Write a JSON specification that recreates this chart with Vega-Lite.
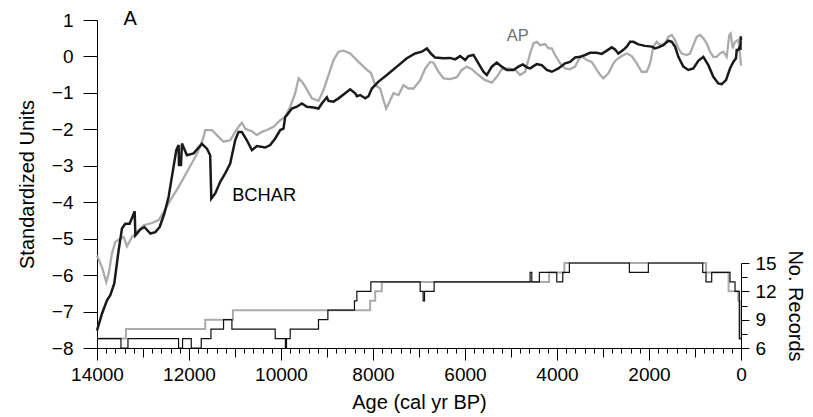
{
  "$schema": "https://vega.github.io/schema/vega-lite/v6.json",
  "autosize": {"type": "none"},
  "padding": {"left": 97, "top": 20, "right": 72, "bottom": 69},
  "width": 644,
  "height": 328,
  "config": {
    "font": "Liberation Sans",
    "view": {"stroke": null},
    "axis": {"grid": false, "domainColor": "#000", "tickColor": "#000", "labelColor": "#000", "titleColor": "#000", "labelFont": "Liberation Sans", "titleFont": "Liberation Sans", "labelFontSize": 19, "titleFontSize": 20, "titleFontWeight": "normal", "domainWidth": 1, "tickWidth": 1, "labelOverlap": false, "labelFlush": false, "labelBound": false, "tickCount": 500}
  },
  "datasets": {
    "bchar": [
      {"age": 14000, "v": -7.52}, {"age": 13892, "v": -7.06}, {"age": 13783, "v": -6.69}, {"age": 13711, "v": -6.55}, {"age": 13624, "v": -6.23},
      {"age": 13530, "v": -5.32}, {"age": 13457, "v": -4.72}, {"age": 13385, "v": -4.59}, {"age": 13290, "v": -4.59}, {"age": 13181, "v": -4.25},
      {"age": 13166, "v": -4.91}, {"age": 13058, "v": -4.75}, {"age": 12971, "v": -4.68}, {"age": 12840, "v": -4.86}, {"age": 12732, "v": -4.82},
      {"age": 12638, "v": -4.68}, {"age": 12536, "v": -4.31}, {"age": 12443, "v": -3.85}, {"age": 12348, "v": -3.12}, {"age": 12276, "v": -2.57},
      {"age": 12226, "v": -2.43}, {"age": 12218, "v": -2.98}, {"age": 12175, "v": -2.98}, {"age": 12153, "v": -2.39}, {"age": 12045, "v": -2.71},
      {"age": 11901, "v": -2.66}, {"age": 11720, "v": -2.40}, {"age": 11610, "v": -2.53}, {"age": 11540, "v": -2.71}, {"age": 11515, "v": -3.90},
      {"age": 11430, "v": -3.76}, {"age": 11321, "v": -3.44}, {"age": 11213, "v": -3.21}, {"age": 11104, "v": -2.94}, {"age": 10996, "v": -2.30},
      {"age": 10923, "v": -2.07}, {"age": 10851, "v": -2.07}, {"age": 10742, "v": -2.30}, {"age": 10633, "v": -2.57}, {"age": 10524, "v": -2.46},
      {"age": 10343, "v": -2.50}, {"age": 10235, "v": -2.43}, {"age": 10126, "v": -2.25}, {"age": 10017, "v": -2.02}, {"age": 9946, "v": -1.98},
      {"age": 9909, "v": -1.66}, {"age": 9873, "v": -1.61}, {"age": 9764, "v": -1.43}, {"age": 9655, "v": -1.38}, {"age": 9546, "v": -1.29},
      {"age": 9437, "v": -1.38}, {"age": 9293, "v": -1.40}, {"age": 9185, "v": -1.43}, {"age": 9112, "v": -1.29}, {"age": 9003, "v": -1.12},
      {"age": 8967, "v": -1.22}, {"age": 8858, "v": -1.24}, {"age": 8750, "v": -1.15}, {"age": 8605, "v": -1.01}, {"age": 8496, "v": -0.90},
      {"age": 8387, "v": -1.01}, {"age": 8351, "v": -1.09}, {"age": 8279, "v": -1.06}, {"age": 8170, "v": -1.15}, {"age": 8098, "v": -1.09},
      {"age": 8025, "v": -0.88}, {"age": 7881, "v": -0.69}, {"age": 7699, "v": -0.51}, {"age": 7481, "v": -0.28}, {"age": 7264, "v": -0.05},
      {"age": 7084, "v": 0.08}, {"age": 6938, "v": 0.13}, {"age": 6829, "v": 0.22}, {"age": 6742, "v": 0.08}, {"age": 6649, "v": -0.03},
      {"age": 6468, "v": -0.05}, {"age": 6323, "v": -0.04}, {"age": 6215, "v": -0.08}, {"age": 6106, "v": 0.01}, {"age": 5997, "v": -0.10},
      {"age": 5925, "v": 0.01}, {"age": 5816, "v": 0.04}, {"age": 5708, "v": -0.19}, {"age": 5599, "v": -0.42}, {"age": 5526, "v": -0.51},
      {"age": 5418, "v": -0.28}, {"age": 5309, "v": -0.17}, {"age": 5200, "v": -0.28}, {"age": 5091, "v": -0.37}, {"age": 4946, "v": -0.37},
      {"age": 4838, "v": -0.28}, {"age": 4743, "v": -0.22}, {"age": 4656, "v": -0.30}, {"age": 4585, "v": -0.33}, {"age": 4527, "v": -0.28},
      {"age": 4440, "v": -0.21}, {"age": 4331, "v": -0.24}, {"age": 4222, "v": -0.37}, {"age": 4113, "v": -0.42}, {"age": 3969, "v": -0.33},
      {"age": 3824, "v": -0.19}, {"age": 3716, "v": -0.15}, {"age": 3607, "v": -0.03}, {"age": 3498, "v": -0.01}, {"age": 3390, "v": 0.04},
      {"age": 3281, "v": 0.10}, {"age": 3136, "v": 0.10}, {"age": 3027, "v": 0.07}, {"age": 2918, "v": 0.16}, {"age": 2810, "v": 0.25},
      {"age": 2738, "v": 0.19}, {"age": 2666, "v": 0.08}, {"age": 2557, "v": 0.18}, {"age": 2484, "v": 0.27}, {"age": 2412, "v": 0.40},
      {"age": 2340, "v": 0.40}, {"age": 2231, "v": 0.33}, {"age": 2086, "v": 0.29}, {"age": 1941, "v": 0.27}, {"age": 1869, "v": 0.22},
      {"age": 1797, "v": 0.25}, {"age": 1688, "v": 0.31}, {"age": 1579, "v": 0.43}, {"age": 1506, "v": 0.40}, {"age": 1434, "v": 0.27},
      {"age": 1362, "v": -0.01}, {"age": 1254, "v": -0.28}, {"age": 1145, "v": -0.37}, {"age": 1036, "v": -0.33}, {"age": 928, "v": -0.12},
      {"age": 819, "v": -0.01}, {"age": 710, "v": -0.24}, {"age": 602, "v": -0.56}, {"age": 493, "v": -0.74}, {"age": 420, "v": -0.76},
      {"age": 326, "v": -0.65}, {"age": 239, "v": -0.33}, {"age": 167, "v": -0.15}, {"age": 109, "v": -0.05}, {"age": 93, "v": 0.18},
      {"age": 59, "v": 0.18}, {"age": 22, "v": 0.27}, {"age": 12, "v": 0.18}, {"age": 6, "v": 0.55}, {"age": 0, "v": 0.45}
    ],
    "ap": [
      {"age": 14000, "v": -5.46}, {"age": 13892, "v": -5.78}, {"age": 13798, "v": -6.19}, {"age": 13747, "v": -5.96}, {"age": 13675, "v": -5.41},
      {"age": 13603, "v": -5.09}, {"age": 13494, "v": -5.00}, {"age": 13421, "v": -4.95}, {"age": 13349, "v": -5.21}, {"age": 13240, "v": -4.95},
      {"age": 13131, "v": -4.82}, {"age": 12986, "v": -4.63}, {"age": 12805, "v": -4.57}, {"age": 12660, "v": -4.49}, {"age": 12551, "v": -4.27},
      {"age": 12406, "v": -3.95}, {"age": 12225, "v": -3.58}, {"age": 12045, "v": -3.17}, {"age": 11864, "v": -2.76}, {"age": 11757, "v": -2.48},
      {"age": 11683, "v": -2.21}, {"age": 11648, "v": -2.02}, {"age": 11502, "v": -2.02}, {"age": 11393, "v": -2.16}, {"age": 11249, "v": -2.34},
      {"age": 11104, "v": -2.30}, {"age": 10996, "v": -2.07}, {"age": 10923, "v": -1.93}, {"age": 10851, "v": -1.82}, {"age": 10779, "v": -1.98},
      {"age": 10706, "v": -2.02}, {"age": 10633, "v": -2.05}, {"age": 10524, "v": -2.16}, {"age": 10416, "v": -2.07}, {"age": 10307, "v": -2.02},
      {"age": 10162, "v": -1.93}, {"age": 10017, "v": -1.75}, {"age": 9909, "v": -1.66}, {"age": 9800, "v": -1.38}, {"age": 9691, "v": -1.01},
      {"age": 9618, "v": -0.60}, {"age": 9546, "v": -0.69}, {"age": 9474, "v": -0.83}, {"age": 9329, "v": -1.15}, {"age": 9185, "v": -1.22},
      {"age": 9076, "v": -0.92}, {"age": 8967, "v": -0.51}, {"age": 8858, "v": -0.10}, {"age": 8750, "v": 0.13}, {"age": 8641, "v": 0.16},
      {"age": 8496, "v": 0.08}, {"age": 8315, "v": -0.15}, {"age": 8134, "v": -0.37}, {"age": 8047, "v": -0.45}, {"age": 8003, "v": -0.60},
      {"age": 7953, "v": -0.79}, {"age": 7844, "v": -0.88}, {"age": 7772, "v": -1.20}, {"age": 7714, "v": -1.43}, {"age": 7641, "v": -1.24},
      {"age": 7554, "v": -1.01}, {"age": 7446, "v": -1.06}, {"age": 7337, "v": -0.79}, {"age": 7228, "v": -0.88}, {"age": 7119, "v": -0.88},
      {"age": 6975, "v": -0.65}, {"age": 6866, "v": -0.33}, {"age": 6758, "v": -0.15}, {"age": 6685, "v": -0.17}, {"age": 6576, "v": -0.42},
      {"age": 6468, "v": -0.60}, {"age": 6323, "v": -0.62}, {"age": 6178, "v": -0.57}, {"age": 6070, "v": -0.37}, {"age": 5961, "v": -0.28},
      {"age": 5852, "v": -0.35}, {"age": 5708, "v": -0.51}, {"age": 5563, "v": -0.65}, {"age": 5418, "v": -0.72}, {"age": 5309, "v": -0.56},
      {"age": 5200, "v": -0.35}, {"age": 5056, "v": -0.33}, {"age": 4910, "v": -0.37}, {"age": 4802, "v": -0.51}, {"age": 4693, "v": -0.42},
      {"age": 4585, "v": 0.08}, {"age": 4512, "v": 0.36}, {"age": 4440, "v": 0.40}, {"age": 4367, "v": 0.31}, {"age": 4258, "v": 0.34},
      {"age": 4186, "v": 0.22}, {"age": 4113, "v": 0.22}, {"age": 4041, "v": 0.04}, {"age": 3932, "v": -0.19}, {"age": 3824, "v": -0.33},
      {"age": 3716, "v": -0.35}, {"age": 3607, "v": -0.28}, {"age": 3535, "v": -0.10}, {"age": 3462, "v": 0.01}, {"age": 3353, "v": -0.10},
      {"age": 3244, "v": -0.15}, {"age": 3136, "v": -0.37}, {"age": 3063, "v": -0.50}, {"age": 2991, "v": -0.60}, {"age": 2883, "v": -0.46},
      {"age": 2774, "v": -0.19}, {"age": 2701, "v": -0.08}, {"age": 2593, "v": 0.01}, {"age": 2484, "v": 0.08}, {"age": 2375, "v": 0.01},
      {"age": 2267, "v": -0.19}, {"age": 2158, "v": -0.42}, {"age": 2049, "v": -0.42}, {"age": 1977, "v": -0.19}, {"age": 1905, "v": 0.27},
      {"age": 1832, "v": 0.40}, {"age": 1760, "v": 0.31}, {"age": 1651, "v": 0.36}, {"age": 1579, "v": 0.54}, {"age": 1506, "v": 0.59},
      {"age": 1434, "v": 0.45}, {"age": 1362, "v": 0.22}, {"age": 1289, "v": 0.08}, {"age": 1180, "v": 0.04}, {"age": 1108, "v": 0.08},
      {"age": 1036, "v": 0.31}, {"age": 963, "v": 0.54}, {"age": 891, "v": 0.59}, {"age": 819, "v": 0.50}, {"age": 746, "v": 0.36},
      {"age": 674, "v": 0.13}, {"age": 602, "v": -0.01}, {"age": 529, "v": -0.01}, {"age": 457, "v": 0.08}, {"age": 384, "v": 0.13},
      {"age": 311, "v": -0.01}, {"age": 254, "v": 0.59}, {"age": 224, "v": 0.63}, {"age": 180, "v": 0.22}, {"age": 130, "v": 0.40},
      {"age": 59, "v": 0.45}, {"age": 22, "v": 0.08}, {"age": 0, "v": -0.25}
    ],
    "recBlack": [
      {"age": 0, "n": 7}, {"age": 37, "n": 12}, {"age": 130, "n": 13}, {"age": 239, "n": 14}, {"age": 637, "n": 13},
      {"age": 761, "n": 14}, {"age": 832, "n": 15}, {"age": 2014, "n": 14}, {"age": 2427, "n": 15}, {"age": 3731, "n": 14},
      {"age": 3875, "n": 13}, {"age": 4005, "n": 14}, {"age": 4383, "n": 13}, {"age": 4548, "n": 14}, {"age": 4585, "n": 13},
      {"age": 6671, "n": 12}, {"age": 6880, "n": 11}, {"age": 6910, "n": 12}, {"age": 6975, "n": 13}, {"age": 8047, "n": 12},
      {"age": 8351, "n": 11}, {"age": 8403, "n": 10}, {"age": 8981, "n": 9}, {"age": 9185, "n": 8}, {"age": 9800, "n": 7},
      {"age": 9880, "n": 6}, {"age": 9905, "n": 7}, {"age": 10126, "n": 8}, {"age": 11067, "n": 9}, {"age": 11249, "n": 8},
      {"age": 11523, "n": 7}, {"age": 11734, "n": 6}, {"age": 11951, "n": 7}, {"age": 12140, "n": 6}, {"age": 12227, "n": 7},
      {"age": 13327, "n": 6}, {"age": 13479, "n": 7}, {"age": 14000, "n": 7}
    ],
    "recGray": [
      {"age": 0, "n": 7}, {"age": 25, "n": 11}, {"age": 60, "n": 12}, {"age": 270, "n": 14}, {"age": 761, "n": 15},
      {"age": 3840, "n": 14}, {"age": 4172, "n": 13}, {"age": 7808, "n": 12}, {"age": 7953, "n": 11}, {"age": 8062, "n": 10},
      {"age": 11045, "n": 9}, {"age": 11647, "n": 8}, {"age": 13371, "n": 7}, {"age": 14000, "n": 7}
    ],
    "labels": [
      {"age": 13423, "v": 1.03, "txt": "A", "kind": "panel"},
      {"age": 11061, "v": -3.84, "txt": "BCHAR", "kind": "bchar"},
      {"age": 5091, "v": 0.56, "txt": "AP", "kind": "ap"}
    ]
  },
  "layer": [
    {
      "layer": [
        {
          "data": {"name": "ap"},
          "mark": {"type": "line", "color": "#ababab", "strokeWidth": 2.3},
          "encoding": {
            "x": {"field": "age", "type": "quantitative", "scale": {"domain": [0, 14000], "reverse": true, "nice": false, "zero": false},
              "axis": {"title": "Age (cal yr BP)", "format": "d", "tickCount": 500, "values": [0,200,400,600,800,1000,1200,1400,1600,1800,2000,2200,2400,2600,2800,3000,3200,3400,3600,3800,4000,4200,4400,4600,4800,5000,5200,5400,5600,5800,6000,6200,6400,6600,6800,7000,7200,7400,7600,7800,8000,8200,8400,8600,8800,9000,9200,9400,9600,9800,10000,10200,10400,10600,10800,11000,11200,11400,11600,11800,12000,12200,12400,12600,12800,13000,13200,13400,13600,13800,14000],
                "labelExpr": "datum.value % 2000 === 0 ? datum.label : ''",
                "tickSize": {"condition": [{"test": "datum.value % 2000 === 0", "value": 12}, {"test": "datum.value % 1000 === 0", "value": 9}], "value": 5},
                "labelPadding": 5, "titlePadding": 8}},
            "y": {"field": "v", "type": "quantitative", "scale": {"domain": [-8, 1], "nice": false, "zero": false},
              "axis": {"title": "Standardized Units", "format": "d", "tickCount": 500, "values": [-8,-7.5,-7,-6.5,-6,-5.5,-5,-4.5,-4,-3.5,-3,-2.5,-2,-1.5,-1,-0.5,0,0.5,1],
                "labelExpr": "datum.value % 1 === 0 ? datum.label : ''",
                "tickSize": {"condition": {"test": "datum.value % 1 === 0", "value": 14}, "value": 7},
                "labelPadding": 10, "titlePadding": 14}}
          }
        },
        {
          "data": {"name": "bchar"},
          "mark": {"type": "line", "color": "#1a1a1a", "strokeWidth": 2.5},
          "encoding": {
            "x": {"field": "age", "type": "quantitative"},
            "y": {"field": "v", "type": "quantitative"}
          }
        },
        {
          "data": {"name": "labels"},
          "mark": {"type": "text", "align": "left", "baseline": "middle"},
          "encoding": {
            "x": {"field": "age", "type": "quantitative"},
            "y": {"field": "v", "type": "quantitative"},
            "text": {"field": "txt"},
            "color": {"field": "kind", "type": "nominal", "scale": {"domain": ["panel", "bchar", "ap"], "range": ["#000000", "#000000", "#707070"]}, "legend": null},
            "size": {"field": "kind", "type": "nominal", "scale": {"domain": ["panel", "bchar", "ap"], "range": [20, 16.5, 16.5]}, "legend": null}
          }
        }
      ]
    },
    {
      "layer": [
        {
          "data": {"name": "recGray"},
          "mark": {"type": "line", "color": "#ababab", "strokeWidth": 2, "interpolate": "step-after"},
          "encoding": {
            "x": {"field": "age", "type": "quantitative"},
            "y": {"field": "n", "type": "quantitative", "scale": {"domain": [6, 15], "range": [328, 243], "nice": false, "zero": false},
              "axis": {"orient": "right", "title": "No. Records", "tickCount": 500, "values": [6, 7.5, 9, 10.5, 12, 13.5, 15], "format": "d",
                "labelExpr": "datum.value % 3 === 0 ? datum.label : ''",
                "tickSize": {"condition": {"test": "datum.value % 3 === 0", "value": 8}, "value": 6},
                "labelPadding": 6, "titlePadding": 8}},
            "order": {"field": "age", "type": "quantitative", "sort": "ascending"}
          }
        },
        {
          "data": {"name": "recBlack"},
          "mark": {"type": "line", "color": "#111111", "strokeWidth": 1.2, "interpolate": "step-after"},
          "encoding": {
            "x": {"field": "age", "type": "quantitative"},
            "y": {"field": "n", "type": "quantitative"},
            "order": {"field": "age", "type": "quantitative", "sort": "ascending"}
          }
        }
      ]
    }
  ],
  "resolve": {"scale": {"y": "independent"}, "axis": {"y": "independent"}}
}
